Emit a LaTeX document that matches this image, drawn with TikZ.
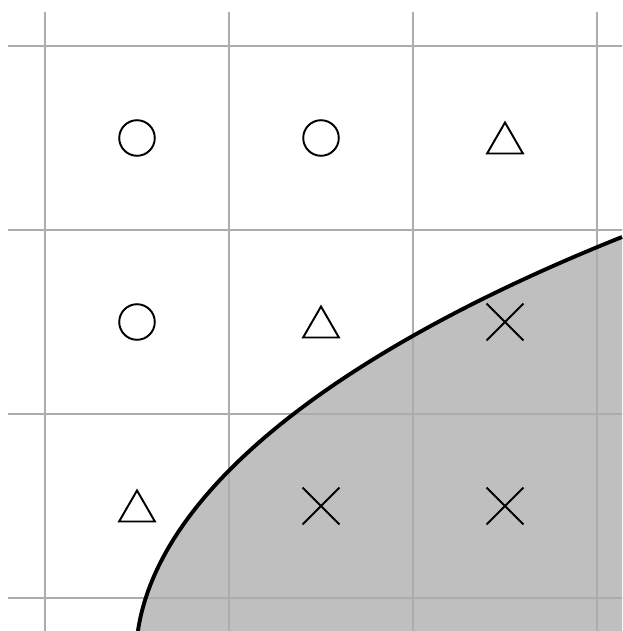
\documentclass[tikz,border=0pt]{standalone}
\usepackage{tikz}
\usetikzlibrary{shapes.geometric,shapes.misc}

\begin{document}
\begin{tikzpicture}[x=2cm,y=2cm,
  gridline/.style={draw=gray!65,line width=0.6pt},
  region/.style={fill=gray!50},
  edge/.style={draw=black,line width=1.2pt},
  circ/.style={draw,circle,line width=0.6pt,minimum size=11pt,inner sep=0pt},
  tri/.style={draw,regular polygon,regular polygon sides=3,line width=0.6pt,minimum size=12.8pt,inner sep=0pt,yshift=-1.6pt},
  crs/.style={draw,cross out,line width=0.6pt,minimum size=10.8pt,inner sep=0pt}]
\useasboundingbox (-0.2446,-0.1793) rectangle (3.1359,3.25);
\coordinate (start) at (0.505,-0.179);
\coordinate (stop) at (3.136,1.962);
\begin{scope}
\clip (-0.2446,-0.1793) rectangle (3.1359,3.25);
% shaded part below the curve
\path[region] (start) .. controls (0.623,0.606) and (1.630,1.360) .. (stop)
  -- (3.2,1.962) -- (3.2,-0.25) -- (0.505,-0.25) -- cycle;
% grid
\foreach \i in {0,1,2,3} {
  \draw[gridline] (\i,-0.25) -- (\i,3.185);
  \draw[gridline] (-0.2,\i) -- (3.2,\i);
}
\end{scope}
\draw[edge] (start) .. controls (0.623,0.606) and (1.630,1.360) .. (stop);
% symbols
\node[circ] (a1) at (0.5,2.5) {};
\node[circ] (a2) at (1.5,2.5) {};
\node[tri] (a3) at (2.5,2.5) {};
\node[circ] (b1) at (0.5,1.5) {};
\node[tri] (b2) at (1.5,1.5) {};
\node[crs] (b3) at (2.5,1.5) {};
\node[tri] (c1) at (0.5,0.5) {};
\node[crs] (c2) at (1.5,0.5) {};
\node[crs] (c3) at (2.5,0.5) {};
\end{tikzpicture}
\end{document}
